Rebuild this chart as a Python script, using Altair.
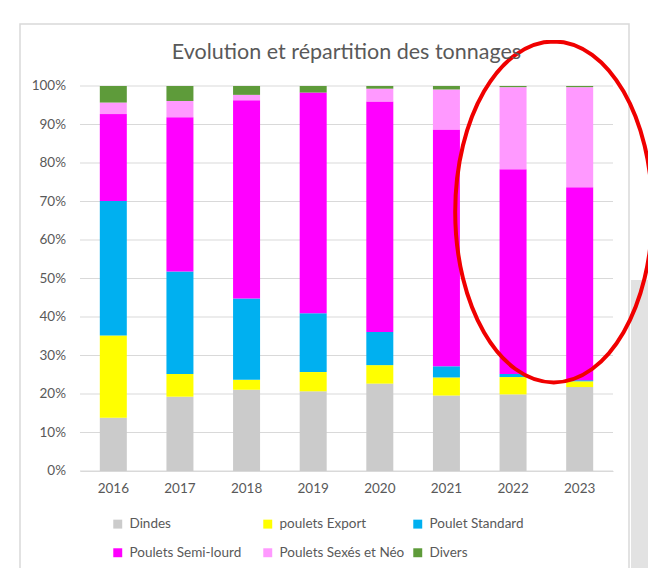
import altair as alt
import pandas as pd

years = ["2016", "2017", "2018", "2019", "2020", "2021", "2022", "2023"]
categories = [
    "Dindes",
    "poulets Export",
    "Poulet Standard",
    "Poulets Semi-lourd",
    "Poulets Sexés et Néo",
    "Divers",
]
colors = ["#CBCBCB", "#FFFF00", "#00B0F0", "#FF00FF", "#FF99FF", "#5E9B3A"]

# share of tonnage per year, in %
dindes = [13.8, 19.3, 21.1, 20.7, 22.7, 19.6, 19.9, 21.8]
export = [21.4, 5.9, 2.6, 5.0, 4.8, 4.7, 4.5, 1.5]
standard = [34.9, 26.6, 21.1, 15.3, 8.6, 2.9, 0.8, 0.3]
semi_lourd = [22.6, 40.1, 51.5, 57.3, 59.9, 61.5, 53.2, 50.1]
sexes_neo = [3.0, 4.2, 1.4, 0.0, 3.3, 10.4, 21.3, 26.0]
divers = [4.3, 3.9, 2.3, 1.7, 0.7, 0.9, 0.3, 0.3]
y_ticks = [0, 0.1, 0.2, 0.3, 0.4, 0.5, 0.6, 0.7, 0.8, 0.9, 1.0]

series = [dindes, export, standard, semi_lourd, sexes_neo, divers]
rows = []
for i, (cat, vals) in enumerate(zip(categories, series)):
    for year, v in zip(years, vals):
        rows.append({"year": year, "cat": cat, "idx": i, "value": v})
df = pd.DataFrame(rows)
ticks_df = pd.DataFrame({"v": y_ticks})

TEXT = "#595959"
GRID = "#D9D9D9"

x_axis = alt.Axis(
    labelAngle=0, ticks=False, domainColor=GRID, labelPadding=10,
    labelFontSize=13.5, labelColor=TEXT,
)
x_scale = alt.Scale(paddingInner=0, paddingOuter=0)
y_scale = alt.Scale(domain=[0, 1])

# horizontal gridlines and percentage labels every 10%
grid = (
    alt.Chart(ticks_df)
    .mark_rule(color=GRID, strokeWidth=1)
    .encode(y=alt.Y("v:Q", scale=y_scale, axis=None))
)
y_labels = (
    alt.Chart(ticks_df)
    .mark_text(align="right", baseline="middle", fontSize=13.5, color=TEXT)
    .encode(
        x=alt.value(-14),
        y=alt.Y("v:Q", scale=y_scale, axis=None),
        text=alt.Text("v:Q", format=".0%"),
    )
)

bars = (
    alt.Chart(df)
    .mark_bar(size=27)
    .encode(
        x=alt.X("year:N", title=None, sort=years, scale=x_scale, axis=x_axis),
        y=alt.Y("value:Q", stack="normalize", title=None, scale=y_scale, axis=None),
        color=alt.Color(
            "cat:N",
            title=None,
            sort=categories,
            scale=alt.Scale(domain=categories, range=colors),
            legend=alt.Legend(
                orient="none", legendX=31, legendY=431, direction="horizontal",
                columns=3, gridAlign="all", symbolType="square", symbolSize=80,
                symbolStrokeWidth=0, labelFontSize=13.5, labelColor=TEXT,
                labelOffset=5, columnPadding=6, rowPadding=14, labelLimit=200,
            ),
        ),
        order=alt.Order("idx:Q", sort="ascending"),
    )
)

# red ellipse drawn around the last two years
ellipse_df = pd.DataFrame({"year": ["2023"], "value": [0.673]})
ellipse = (
    alt.Chart(ellipse_df)
    .mark_point(
        shape="M-0.152,-1 A0.578,1 0 0,1 -0.152,1 A0.578,1 0 0,1 -0.152,-1 Z",
        filled=False, stroke="#F00000", strokeWidth=4, size=116300, opacity=1,
    )
    .encode(
        x=alt.X("year:N", title=None, sort=years, scale=x_scale, axis=x_axis),
        y=alt.Y("value:Q", title=None, scale=y_scale, axis=None),
    )
)

deco = pd.DataFrame({"a": [0]})
frame = (
    alt.Chart(deco)
    .mark_rect(fill=None, stroke=GRID, strokeWidth=1.5)
    .encode(x=alt.value(-60), x2=alt.value(549), y=alt.value(-62), y2=alt.value(487))
)
side = (
    alt.Chart(deco)
    .mark_rect(fill="#E2E2E2")
    .encode(x=alt.value(551), x2=alt.value(580), y=alt.value(194), y2=alt.value(500))
)

chart = (
    alt.layer(side, frame, grid, bars, y_labels, ellipse)
    .properties(
        width=533,
        height=385,
        autosize=alt.AutoSizeParams(type="none"),
        padding={"left": 72, "top": 78, "right": 35, "bottom": 97},
        title=alt.TitleParams(
            "Evolution et répartition des tonnages", anchor="middle", frame="group",
            fontSize=21.5, fontWeight="normal", color=TEXT, offset=-40,
        ),
    )
    .configure(font="Lato")
    .configure_view(stroke=None)
)

chart.save("out.html", embed_options={"renderer": "svg", "actions": False})
